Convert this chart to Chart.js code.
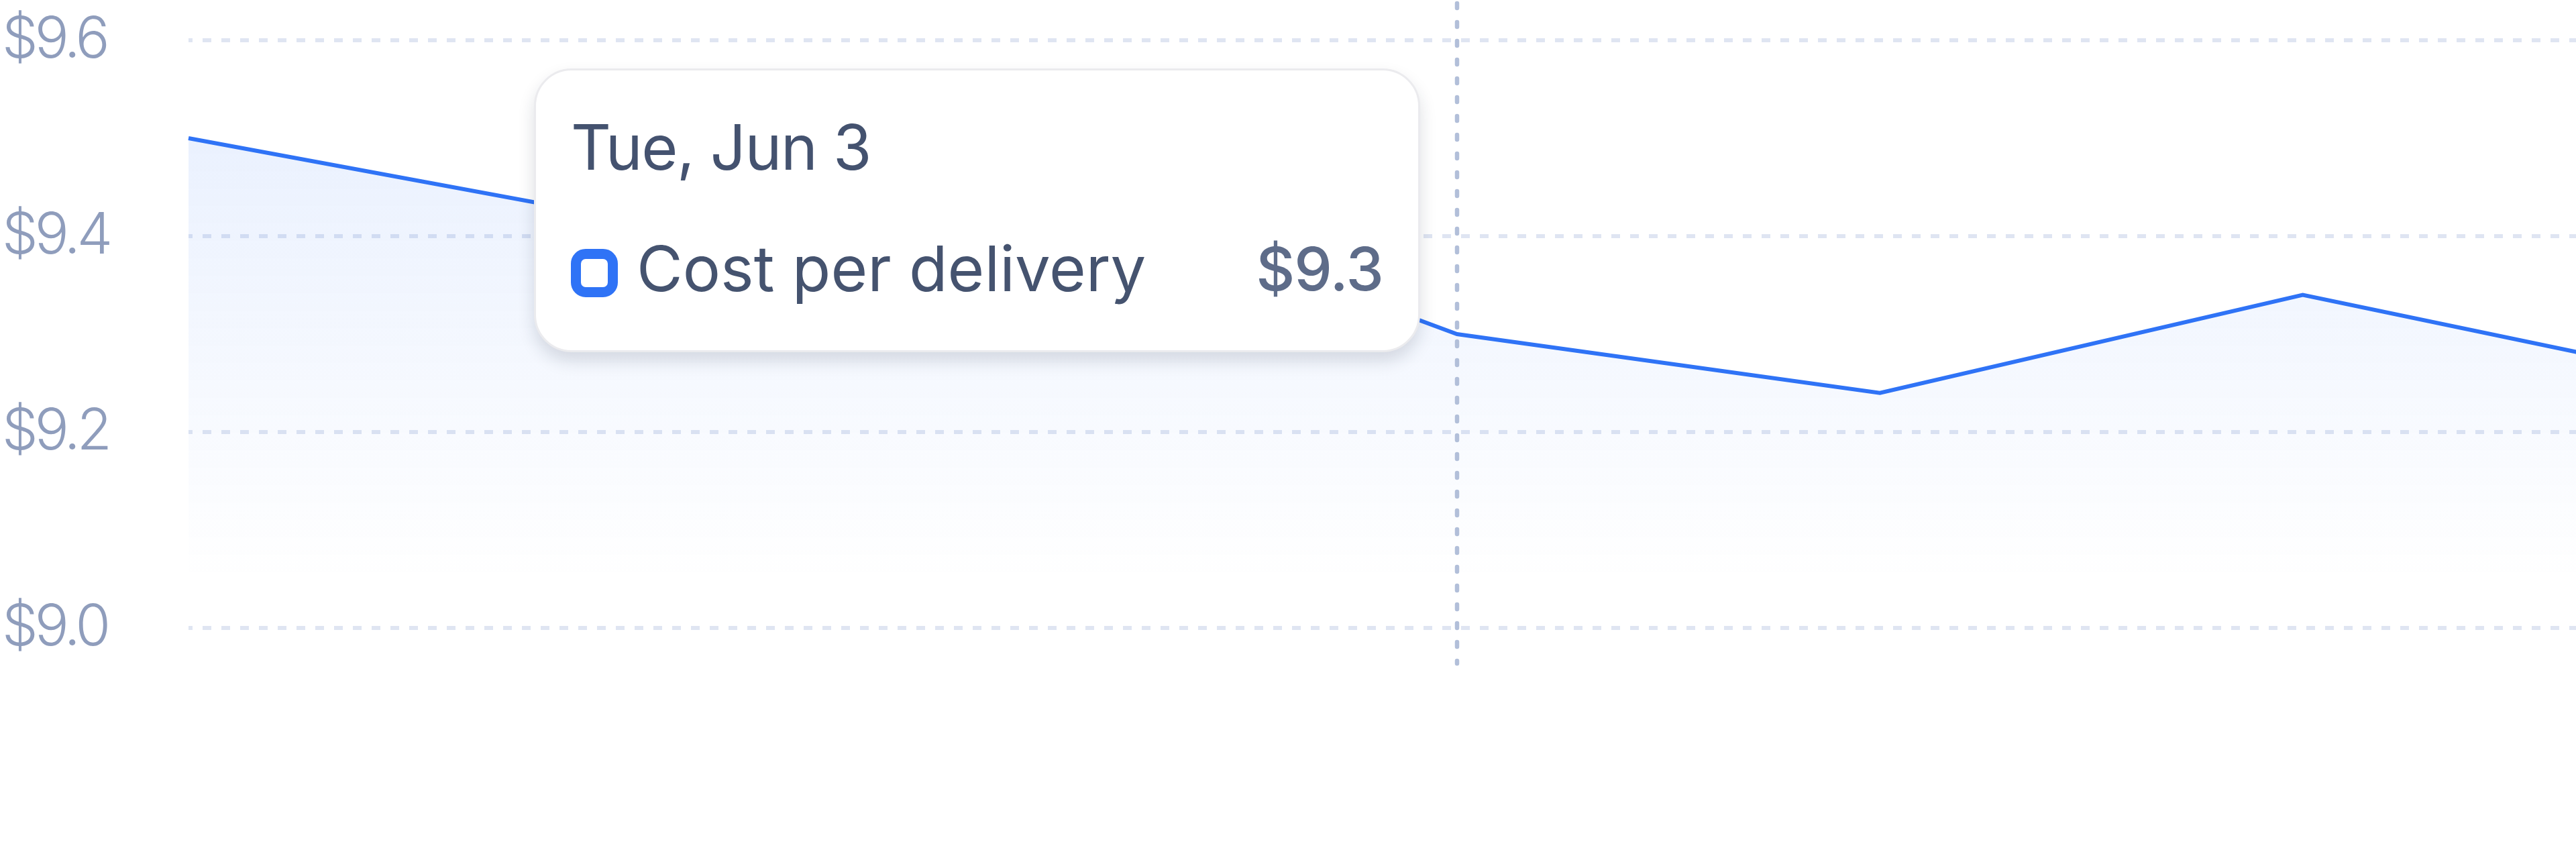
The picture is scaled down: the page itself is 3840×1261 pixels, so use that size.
<!DOCTYPE html>
<html lang="en">
<head>
<meta charset="utf-8">
<title>Cost per delivery</title>
<script src="https://cdn.jsdelivr.net/npm/chart.js@4.4.1/dist/chart.umd.min.js"></script>
<style>
  html, body { margin: 0; padding: 0; background: #fff; overflow: hidden; }
  .chart-wrap { position: relative; width: 4100px; height: 1261px; }

  /* tooltip card */
  .tip {
    position: absolute; display: none; box-sizing: border-box;
    width: 1321px; height: 423px;
    padding: 67px 52px 0 52px;
    background: #fff; border: 3px solid #ebebee; border-radius: 56px;
    box-shadow: 0 13px 24px rgba(30, 41, 59, 0.15);
    font-family: Inter, sans-serif; pointer-events: none;
  }
  .tip-title { font-size: 93px; line-height: 95px; color: #44526f; letter-spacing: -1.5px; }
  .tip-row {
    display: flex; align-items: center; margin-top: 86px;
    height: 95px; line-height: 95px; font-size: 94px; color: #45536f;
  }
  .tip-swatch {
    width: 70px; height: 72px; box-sizing: border-box; flex: none;
    border: 15px solid #2f73f6; border-radius: 22px;
    margin-right: 28px; position: relative; top: 6px;
  }
  .tip-name { flex: 1; }
  .tip-value { color: #5e6c89; font-weight: 500; font-size: 90px; letter-spacing: -1px; }
</style>
</head>
<body>
<div class="chart-wrap">
  <canvas id="chart-cost"></canvas>
  <div id="tip" class="tip"></div>
</div>
<script>
'use strict';

// ── Data ──────────────────────────────────────────────────────
const DAYS = ['Sat, May 31', 'Sun, Jun 1', 'Mon, Jun 2', 'Tue, Jun 3', 'Wed, Jun 4', 'Thu, Jun 5', 'Fri, Jun 6'];
const COST_PER_DELIVERY = [9.5, 9.42, 9.46, 9.3, 9.24, 9.34, 9.25];
const Y_TICKS = [9.0, 9.2, 9.4, 9.6];
const SERIES_LABEL = 'Cost per delivery';
const ACTIVE_INDEX = 3;

// ── Helpers ───────────────────────────────────────────────────
function el(id) { return document.getElementById(id); }

function money(v) { return '$' + Number(v).toFixed(1); }

function areaGradient(ctx) {
  const { chart } = ctx;
  const area = chart.chartArea;
  if (!area) return 'rgba(47,115,246,0.08)';
  const g = chart.ctx.createLinearGradient(0, area.top, 0, area.bottom);
  g.addColorStop(0, 'rgba(47,115,246,0.12)');
  g.addColorStop(0.92, 'rgba(47,115,246,0)');
  return g;
}

// ── Tooltip (html card) ───────────────────────────────────────
function renderTooltip({ chart, tooltip }) {
  const tip = el('tip');
  if (tooltip.opacity === 0 || !tooltip.dataPoints || !tooltip.dataPoints.length) {
    tip.style.display = 'none';
    return;
  }
  const p = tooltip.dataPoints[0];
  tip.innerHTML = `
    <div class="tip-title">${tooltip.title[0]}</div>
    <div class="tip-row">
      <span class="tip-swatch"></span>
      <span class="tip-name">${p.dataset.label}</span>
      <span class="tip-value">$${p.raw}</span>
    </div>`;
  tip.style.display = 'block';
  tip.style.left = (tooltip.caretX - 55 - tip.offsetWidth) + 'px';
  tip.style.top  = (chart.chartArea.top + 42) + 'px';
}

// ── Tighter tick lettering (canvas letterSpacing) ─────────────
const tightTicks = {
  id: 'tightTicks',
  beforeDraw(chart) { chart.ctx.letterSpacing = '-5px'; },
  afterDraw(chart)  { chart.ctx.letterSpacing = '0px'; },
};

// ── Crosshair on the active day ───────────────────────────────
const crosshair = {
  id: 'crosshair',
  afterDatasetsDraw(chart) {
    const active = chart.getActiveElements();
    if (!active.length) return;
    const x = active[0].element.x;
    const { ctx, chartArea } = chart;
    ctx.save();
    ctx.beginPath();
    ctx.setLineDash([7, 21]);
    ctx.lineCap = 'round';
    ctx.lineWidth = 6.5;
    ctx.strokeStyle = '#b2bfd9';
    ctx.moveTo(x, chartArea.top - 55);
    ctx.lineTo(x, chartArea.bottom + 53);
    ctx.stroke();
    ctx.restore();
  },
};

// ── Chart ─────────────────────────────────────────────────────
Chart.defaults.font.family = 'Inter, sans-serif';

const chart = new Chart(el('chart-cost'), {
  type: 'line',
  data: {
    labels: DAYS,
    datasets: [{
      label: SERIES_LABEL,
      data: COST_PER_DELIVERY,
      borderColor: '#2f73f6',
      borderWidth: 6,
      backgroundColor: areaGradient,
      fill: 'start',
      tension: 0,
      pointRadius: 0,
      pointHoverRadius: 0,
    }],
  },
  options: {
    responsive: true,
    maintainAspectRatio: false,
    animation: false,
    events: [],
    layout: { padding: { top: 60, left: 3, right: 37, bottom: 325 } },
    interaction: { mode: 'index', intersect: false },
    plugins: {
      legend: { display: false },
      tooltip: { enabled: false, external: renderTooltip },
    },
    scales: {
      x: { display: false, offset: false },
      y: {
        min: Y_TICKS[0],
        max: Y_TICKS[Y_TICKS.length - 1],
        afterBuildTicks: (s) => { s.ticks = Y_TICKS.map((v) => ({ value: v })); },
        afterFit: (s) => { s.width = 278; },
        border: { display: false, dash: [13, 15], dashOffset: 7 },
        grid: { color: '#dfe5f2', lineWidth: 6, drawTicks: false },
        ticks: {
          crossAlign: 'far',
          padding: 0,
          color: '#8f9dbc',
          font: { size: 85, weight: 350 },
          callback: (v) => money(v),
        },
      },
    },
  },
  plugins: [tightTicks, crosshair],
});

const act = [{ datasetIndex: 0, index: ACTIVE_INDEX }];
chart.setActiveElements(act);
chart.tooltip.setActiveElements(act, { x: 0, y: 0 });
chart.update('none');
</script>
</body>
</html>
